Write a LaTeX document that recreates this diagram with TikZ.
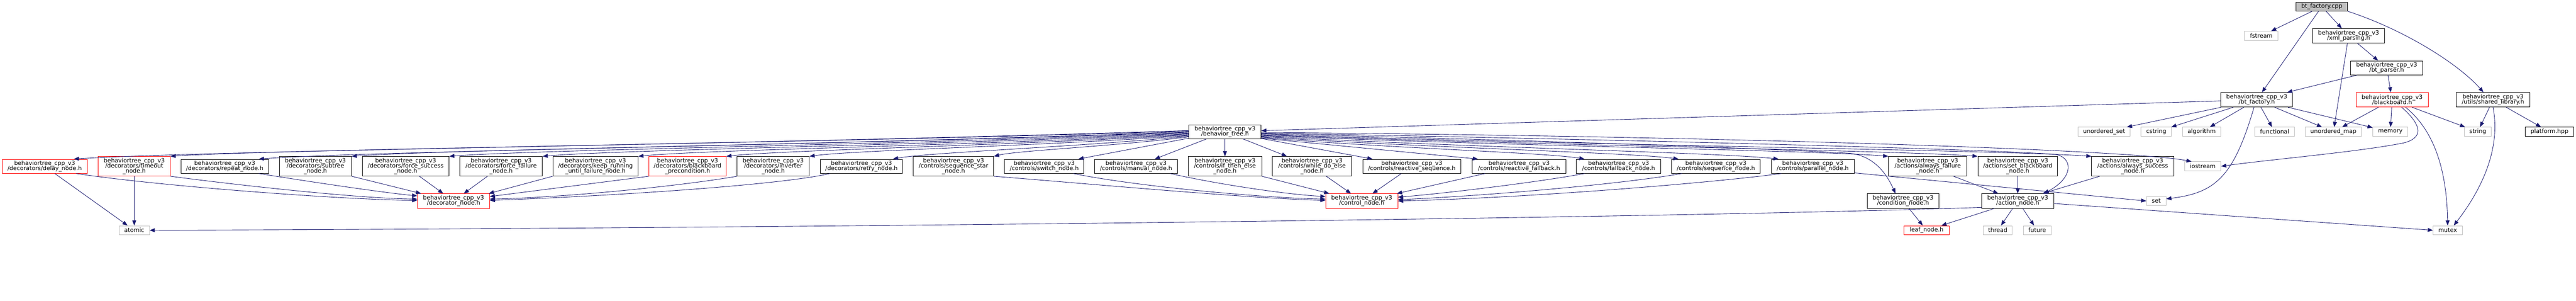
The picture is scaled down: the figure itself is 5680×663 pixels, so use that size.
\documentclass[tikz,border=0pt]{standalone}
\usepackage{fontspec}
\newfontfamily\dotfont{DejaVu Sans}
\usetikzlibrary{arrows.meta}

\definecolor{midnight}{RGB}{25,25,112}
\definecolor{grey75}{RGB}{191,191,191}
\lineskiplimit=-100pt

\tikzset{
	file_node/.style={draw=black, fill=white, line width=0.75pt, inner sep=0pt, align=center,
		font={\dotfont\fontsize{9.65}{8.6}\selectfont}},
	sys_node/.style={file_node, draw=grey75},
	cut_node/.style={file_node, draw=red},
	root_node/.style={file_node, fill=grey75},
	box/.style 2 args={minimum width=#1*0.75pt, minimum height=#2*0.75pt},
	dep/.style={draw=midnight, line width=0.75pt, -{Triangle[length=8.5pt, width=6.5pt]}},
}

\begin{document}
\begin{tikzpicture}[x=0.75pt, y=-0.75pt]

	\path[use as bounding box, fill=white] (0,0) rectangle (5680,663);

	% upper part
	\node (bt_factory_cpp) [root_node, box={114}{20}] at (5119.5,14.5) {bt\_factory.cpp};
	\node (fstream) [sys_node, box={74}{20}] at (4986,79) {fstream};
	\node (xml_parsing) [file_node, box={159}{32}] at (5178.5,79) {behaviortree\_cpp\_v3\\/xml\_parsing.h};
	\node (bt_parser) [file_node, box={159}{31}] at (5262.5,149.5) {behaviortree\_cpp\_v3\\/bt\_parser.h};
	\node (bt_factory) [file_node, box={158}{32}] at (4976,220) {behaviortree\_cpp\_v3\\/bt\_factory.h};
	\node (blackboard) [cut_node, box={159}{32}] at (5274.5,220) {behaviortree\_cpp\_v3\\/blackboard.h};
	\node (shared_library) [file_node, box={162}{32}] at (5497,220) {behaviortree\_cpp\_v3\\/utils/shared\_library.h};
	\node (behavior_tree) [file_node, box={159}{31}] at (2701,290.5) {behaviortree\_cpp\_v3\\/behavior\_tree.h};

	\node (unordered_set) [sys_node, box={115}{20}] at (4639.5,290.5) {unordered\_set};
	\node (cstring) [sys_node, box={67}{20}] at (4754.5,290.5) {cstring};
	\node (algorithm) [sys_node, box={85}{20}] at (4854.5,290.5) {algorithm};
	\node (functional) [sys_node, box={87}{20}] at (5015.5,290.5) {functional};
	\node (unordered_map) [sys_node, box={124}{20}] at (5145,290.5) {unordered\_map};
	\node (memory) [sys_node, box={77}{20}] at (5270.5,290.5) {memory};
	\node (string) [sys_node, box={59}{20}] at (5463.5,290.5) {string};
	\node (platform) [file_node, box={107}{20}] at (5621.5,290.5) {platform.hpp};

	% decorators, controls, actions
	\node (delay_node) [cut_node, box={187}{31}] at (98.5,366.5) {behaviortree\_cpp\_v3\\/decorators/delay\_node.h};
	\node (timeout_node) [cut_node, box={159}{43}] at (296,366.5) {behaviortree\_cpp\_v3\\/decorators/timeout\\\_node.h};
	\node (repeat_node) [file_node, box={193}{31}] at (495.5,366.5) {behaviortree\_cpp\_v3\\/decorators/repeat\_node.h};
	\node (subtree_node) [file_node, box={159}{43}] at (695.5,366.5) {behaviortree\_cpp\_v3\\/decorators/subtree\\\_node.h};
	\node (force_success) [file_node, box={191}{43}] at (894.5,366.5) {behaviortree\_cpp\_v3\\/decorators/force\_success\\\_node.h};
	\node (force_failure) [file_node, box={182}{43}] at (1105,366.5) {behaviortree\_cpp\_v3\\/decorators/force\_failure\\\_node.h};
	\node (keep_running) [file_node, box={188}{43}] at (1313,366.5) {behaviortree\_cpp\_v3\\/decorators/keep\_running\\\_until\_failure\_node.h};
	\node (bb_precondition) [cut_node, box={170}{43}] at (1516,366.5) {behaviortree\_cpp\_v3\\/decorators/blackboard\\\_precondition.h};
	\node (inverter_node) [file_node, box={159}{43}] at (1705,366.5) {behaviortree\_cpp\_v3\\/decorators/inverter\\\_node.h};
	\node (retry_node) [file_node, box={181}{31}] at (1899.5,366.5) {behaviortree\_cpp\_v3\\/decorators/retry\_node.h};
	\node (sequence_star) [file_node, box={177}{43}] at (2102.5,366.5) {behaviortree\_cpp\_v3\\/controls/sequence\_star\\\_node.h};
	\node (switch_node) [file_node, box={175}{31}] at (2302.5,366.5) {behaviortree\_cpp\_v3\\/controls/switch\_node.h};
	\node (manual_node) [file_node, box={183}{31}] at (2505,366.5) {behaviortree\_cpp\_v3\\/controls/manual\_node.h};
	\node (if_then_else) [file_node, box={162}{43}] at (2701,366.5) {behaviortree\_cpp\_v3\\/controls/if\_then\_else\\\_node.h};
	\node (while_do_else) [file_node, box={175}{43}] at (2893,366.5) {behaviortree\_cpp\_v3\\/controls/while\_do\_else\\\_node.h};
	\node (reactive_seq) [file_node, box={216}{31}] at (3113,366.5) {behaviortree\_cpp\_v3\\/controls/reactive\_sequence.h};
	\node (reactive_fb) [file_node, box={207}{31}] at (3349.5,366.5) {behaviortree\_cpp\_v3\\/controls/reactive\_fallback.h};
	\node (fallback_node) [file_node, box={186}{31}] at (3569,366.5) {behaviortree\_cpp\_v3\\/controls/fallback\_node.h};
	\node (sequence_node) [file_node, box={195}{31}] at (3783.5,366.5) {behaviortree\_cpp\_v3\\/controls/sequence\_node.h};
	\node (parallel_node) [file_node, box={183}{31}] at (3997,366.5) {behaviortree\_cpp\_v3\\/controls/parallel\_node.h};
	\node (always_failure) [file_node, box={173}{43}] at (4250.5,366.5) {behaviortree\_cpp\_v3\\/actions/always\_failure\\\_node.h};
	\node (set_blackboard) [file_node, box={176}{43}] at (4449,366.5) {behaviortree\_cpp\_v3\\/actions/set\_blackboard\\\_node.h};
	\node (always_success) [file_node, box={181}{43}] at (4702.5,366.5) {behaviortree\_cpp\_v3\\/actions/always\_success\\\_node.h};
	\node (iostream) [sys_node, box={80}{20}] at (4857,366.5) {iostream};

	\node (decorator_node) [cut_node, box={159}{32}] at (1000,443) {behaviortree\_cpp\_v3\\/decorator\_node.h};
	\node (control_node) [cut_node, box={159}{32}] at (3002.5,443) {behaviortree\_cpp\_v3\\/control\_node.h};
	\node (condition_node) [file_node, box={158}{32}] at (4196,443) {behaviortree\_cpp\_v3\\/condition\_node.h};
	\node (action_node) [file_node, box={159}{32}] at (4449,443) {behaviortree\_cpp\_v3\\/action\_node.h};
	\node (set) [sys_node, box={43}{20}] at (4754.5,443) {set};

	\node (atomic) [sys_node, box={67}{20}] at (296,507.5) {atomic};
	\node (leaf_node) [cut_node, box={99}{20}] at (4248,507.5) {leaf\_node.h};
	\node (thread) [sys_node, box={64}{20}] at (4405,507.5) {thread};
	\node (future) [sys_node, box={62}{20}] at (4492,507.5) {future};
	\node (mutex) [sys_node, box={64}{20}] at (5397,507.5) {mutex};

	% bt_factory.cpp
	\path [draw, dep] (bt_factory_cpp) -- (fstream);
	\path [draw, dep] (bt_factory_cpp) -- (bt_factory);
	\path [draw, dep] (bt_factory_cpp) -- (xml_parsing);
	\path [draw, dep] (bt_factory_cpp.south east) .. controls (5300,65) and (5420,140) .. (shared_library.142);

	\path [draw, dep] (xml_parsing) -- (bt_parser);
	\path [draw, dep] (xml_parsing) -- (unordered_map);
	\path [draw, dep] (bt_parser) -- (blackboard);
	\path [draw, dep] (bt_parser) -- (bt_factory);

	% bt_factory.h
	\path [draw, dep] (bt_factory) -- (behavior_tree);
	\path [draw, dep] (bt_factory) -- (unordered_set);
	\path [draw, dep] (bt_factory) -- (cstring);
	\path [draw, dep] (bt_factory) -- (algorithm);
	\path [draw, dep] (bt_factory) -- (functional);
	\path [draw, dep] (bt_factory) -- (unordered_map);
	\path [draw, dep] (bt_factory) -- (memory);
	\path [draw, dep] (bt_factory.-110) .. controls (4925,390) and (4885,425) .. (set.12);

	% blackboard.h, shared_library.h
	\path [draw, dep] (blackboard) -- (unordered_map);
	\path [draw, dep] (blackboard) -- (memory);
	\path [draw, dep] (blackboard) -- (string);
	\path [draw, dep] (blackboard.-38) .. controls (5345,280) and (5340,305) .. (5300,315) .. controls (5200,335) and (5000,352) .. (iostream.east);
	\path [draw, dep] (blackboard.-29) .. controls (5370,290) and (5395,380) .. (mutex.north);
	\path [draw, dep] (shared_library) -- (string);
	\path [draw, dep] (shared_library) -- (platform);
	\path [draw, dep] (shared_library.south) .. controls (5515,330) and (5470,420) .. (mutex.38);

	% behavior_tree.h, to the left
	\path [draw, dep] (behavior_tree.178) .. controls (1638,319) and (458,332) .. (delay_node.14);
	\path [draw, dep] (behavior_tree.179) .. controls (1723,317) and (645,328) .. (timeout_node.north east);
	\path [draw, dep] (behavior_tree.180) .. controls (1800,321) and (813,333) .. (repeat_node.12);
	\path [draw, dep] (behavior_tree.181) .. controls (1883,318) and (997,329) .. (subtree_node.north east);
	\path [draw, dep] (behavior_tree.182) .. controls (1969,319) and (1186,330) .. (force_success.north east);
	\path [draw, dep] (behavior_tree.183) .. controls (2051,320) and (1367,330) .. (force_failure.north east);
	\path [draw, dep] (behavior_tree.184) .. controls (2136,321) and (1553,330) .. (keep_running.north east);
	\path [draw, dep] (behavior_tree.185) .. controls (2213,321) and (1724,331) .. (bb_precondition.north east);
	\path [draw, dep] (behavior_tree.186) .. controls (2287,322) and (1885,331) .. (inverter_node.north east);
	\path [draw, dep] (behavior_tree.187) .. controls (2360,325) and (2046,336) .. (retry_node.13);
	\path [draw, dep] (behavior_tree.188) .. controls (2449,323) and (2242,332) .. (sequence_star.north east);
	\path [draw, dep] (behavior_tree.190) -- (switch_node.12);
	\path [draw, dep] (behavior_tree) -- (manual_node);
	\path [draw, dep] (behavior_tree) -- (if_then_else);

	% behavior_tree.h, to the right
	\path [draw, dep] (behavior_tree) -- (while_do_else);
	\path [draw, dep] (behavior_tree) -- (reactive_seq);
	\path [draw, dep] (behavior_tree.-10) -- (reactive_fb.170);
	\path [draw, dep] (behavior_tree.-9) .. controls (3066,327) and (3407,336) .. (fallback_node.168);
	\path [draw, dep] (behavior_tree.-8) .. controls (3150,326) and (3594,336) .. (sequence_node.169);
	\path [draw, dep] (behavior_tree.-7) .. controls (3238,325) and (3786,336) .. (parallel_node.168);
	\path [draw, dep] (behavior_tree.-6) .. controls (3334,322) and (3998,331) .. (always_failure.north west);
	\path [draw, dep] (behavior_tree.-5) .. controls (3413,321) and (4171,331) .. (set_blackboard.north west);
	\path [draw, dep] (behavior_tree.-4) .. controls (3513,321) and (4392,330) .. (always_success.north west);
	\path [draw, dep] (behavior_tree.-3) .. controls (3500,312) and (3950,330) .. (4080,338) .. controls (4140,345) and (4165,395) .. (condition_node.135);
	\path [draw, dep] (behavior_tree.-2) .. controls (3600,308) and (4350,328) .. (4530,340) .. controls (4570,345) and (4575,390) .. (action_node.16);
	\path [draw, dep] (behavior_tree.-1) .. controls (3800,300) and (4700,330) .. (iostream.157);

	% decorators
	\path [draw, dep] (delay_node.-13) .. controls (350,410) and (750,440) .. (decorator_node.179);
	\path [draw, dep] (timeout_node.south east) .. controls (500,405) and (780,437) .. (decorator_node.177);
	\path [draw, dep] (repeat_node.-12) .. controls (680,400) and (840,424) .. (decorator_node.172);
	\path [draw, dep] (subtree_node.south east) -- (decorator_node.167);
	\path [draw, dep] (force_success) -- (decorator_node);
	\path [draw, dep] (force_failure) -- (decorator_node);
	\path [draw, dep] (keep_running.south west) -- (decorator_node.12);
	\path [draw, dep] (bb_precondition.south west) -- (decorator_node.7);
	\path [draw, dep] (inverter_node.south west) .. controls (1500,410) and (1250,435) .. (decorator_node.3);
	\path [draw, dep] (retry_node.-167) .. controls (1720,408) and (1350,432) .. (decorator_node.1);
	\path [draw, dep] (delay_node) -- (atomic);
	\path [draw, dep] (timeout_node) -- (atomic);

	% controls
	\path [draw, dep] (sequence_star.south east) .. controls (2400,405) and (2750,437) .. (control_node.179);
	\path [draw, dep] (switch_node.-14) .. controls (2500,410) and (2780,436) .. (control_node.177);
	\path [draw, dep] (manual_node.-12) .. controls (2680,405) and (2830,428) .. (control_node.173);
	\path [draw, dep] (if_then_else.south east) -- (control_node.167);
	\path [draw, dep] (while_do_else) -- (control_node);
	\path [draw, dep] (reactive_seq) -- (control_node);
	\path [draw, dep] (reactive_fb.-168) -- (control_node.12);
	\path [draw, dep] (fallback_node.-168) .. controls (3400,400) and (3200,425) .. (control_node.6);
	\path [draw, dep] (sequence_node.-168) .. controls (3580,405) and (3300,430) .. (control_node.2);
	\path [draw, dep] (parallel_node.-167) .. controls (3800,400) and (3400,435) .. (control_node.east);
	\path [draw, dep] (parallel_node.-9) -- (set.west);

	% actions
	\path [draw, dep] (always_failure) -- (action_node);
	\path [draw, dep] (set_blackboard) -- (action_node);
	\path [draw, dep] (always_success) -- (action_node);
	\path [draw, dep] (condition_node) -- (leaf_node);
	\path [draw, dep] (action_node) -- (leaf_node);
	\path [draw, dep] (action_node) -- (thread);
	\path [draw, dep] (action_node) -- (future);
	\path [draw, dep] (action_node.-4) -- (mutex.west);
	\path [draw, dep] (action_node.190) .. controls (3700,480) and (1800,503) .. (atomic.east);

\end{tikzpicture}
\end{document}
